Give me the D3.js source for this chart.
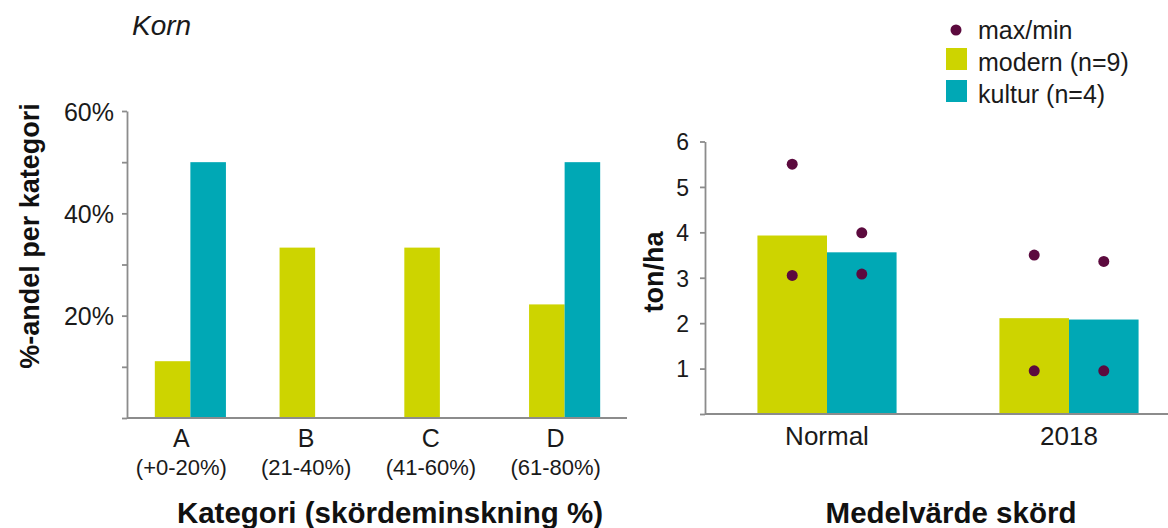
<!DOCTYPE html>
<html>
<head>
<meta charset="utf-8">
<script src="https://cdn.jsdelivr.net/npm/d3@7"></script>
<style>
  html, body { margin: 0; padding: 0; background: #fff; }
  svg { display: block; font-family: "Liberation Sans", Arial, Helvetica, sans-serif; }
  .axis path, .axis line { stroke: #8c8c8c; stroke-width: 1.8; }
  .axis text { fill: #1a1a1a; }
</style>
</head>
<body>
<svg id="chart" width="1168" height="528"></svg>
<script>
// Andel sorter per skördeminskningskategori
const categories = ["A", "B", "C", "D"];
const categoryRanges = ["(+0-20%)", "(21-40%)", "(41-60%)", "(61-80%)"];
const modernShare = [11.1, 33.3, 33.3, 22.2];
const kulturShare = [50, 0, 0, 50];
const shareTicks = [0, 10, 20, 30, 40, 50, 60];

// Medelskörd (ton/ha) med max/min
const yieldGroups = ["Normal", "2018"];
const modernMean = [3.93, 2.11];
const kulturMean = [3.56, 2.08];
const modernMax = [5.5, 3.5];
const modernMin = [3.05, 0.95];
const kulturMax = [3.99, 3.36];
const kulturMin = [3.08, 0.95];
const yieldTicks = [0, 1, 2, 3, 4, 5, 6];

const seriesNames = ["modern", "kultur"];
const legendLabels = ["max/min", "modern (n=9)", "kultur (n=4)"];
const colors = { modern: "#cdd400", kultur: "#00a8b5", dot: "#5c0a3e" };

const svg = d3.select("#chart");

// Rubrik
svg.append("text")
  .attr("x", 132).attr("y", 35)
  .attr("font-size", 28).attr("font-style", "italic").attr("fill", "#1a1a1a")
  .text("Korn");

// ---------- Vänster diagram ----------
const xL = d3.scaleBand().domain(categories).range([128, 627])
  .paddingInner(0.43).paddingOuter(0.215);
const subL = d3.scaleBand().domain(seriesNames).range([0, xL.bandwidth()]);
const yL = d3.scaleLinear().domain([0, 60]).range([418, 111]);

const leftData = categories.map((c, i) => ({ c, modern: modernShare[i], kultur: kulturShare[i] }));

const gL = svg.append("g");
gL.selectAll("g.cat").data(leftData).join("g")
  .attr("transform", d => `translate(${xL(d.c)},0)`)
  .selectAll("rect").data(d => seriesNames.map(s => ({ s, v: d[s] })).filter(e => e.v > 0)).join("rect")
  .attr("x", e => subL(e.s))
  .attr("width", subL.bandwidth())
  .attr("y", e => yL(e.v))
  .attr("height", e => yL(0) - yL(e.v))
  .attr("fill", e => colors[e.s]);

gL.append("g").attr("class", "axis")
  .attr("transform", "translate(127,0)")
  .call(d3.axisLeft(yL).tickValues(shareTicks).tickSize(5).tickSizeOuter(0).tickPadding(8)
    .tickFormat(d => (d > 0 && d % 20 === 0) ? d + "%" : ""))
  .call(g => g.selectAll("text").attr("font-size", 25).attr("dy", "0.36em"));

gL.append("line")
  .attr("x1", 127).attr("x2", xL.range()[1])
  .attr("y1", yL(0)).attr("y2", yL(0))
  .attr("stroke", "#8c8c8c").attr("stroke-width", 1.8);

const catLabels = gL.selectAll("g.catlab").data(categories).join("g")
  .attr("transform", d => `translate(${xL(d) + xL.bandwidth() / 2 - 9},0)`);
catLabels.append("text").attr("y", 447).attr("text-anchor", "middle")
  .attr("font-size", 25).attr("fill", "#1a1a1a").text(d => d);
catLabels.append("text").attr("y", 475).attr("text-anchor", "middle")
  .attr("font-size", 22).attr("fill", "#1a1a1a").text((d, i) => categoryRanges[i]);

gL.append("text")
  .attr("transform", "translate(39,236) rotate(-90)")
  .attr("text-anchor", "middle").attr("font-size", 27).attr("font-weight", "bold").attr("fill", "#111")
  .text("%-andel per kategori");

gL.append("text")
  .attr("x", 390).attr("y", 523).attr("text-anchor", "middle")
  .attr("font-size", 29.5).attr("font-weight", "bold").attr("fill", "#111")
  .text("Kategori (skördeminskning %)");

// ---------- Höger diagram ----------
const xR = d3.scaleBand().domain(yieldGroups).range([706, 1190])
  .paddingInner(0.425).paddingOuter(0.2125);
const subR = d3.scaleBand().domain(seriesNames).range([0, xR.bandwidth()]);
const yR = d3.scaleLinear().domain([0, 6]).range([414, 141.5]);

const rightData = yieldGroups.map((g, i) => ({
  g,
  modern: { mean: modernMean[i], max: modernMax[i], min: modernMin[i] },
  kultur: { mean: kulturMean[i], max: kulturMax[i], min: kulturMin[i] }
}));

const gR = svg.append("g");
const groups = gR.selectAll("g.grp").data(rightData).join("g")
  .attr("transform", d => `translate(${xR(d.g)},0)`);

groups.selectAll("rect").data(d => seriesNames.map(s => ({ s, ...d[s] }))).join("rect")
  .attr("x", e => subR(e.s))
  .attr("width", subR.bandwidth())
  .attr("y", e => yR(e.mean))
  .attr("height", e => yR(0) - yR(e.mean))
  .attr("fill", e => colors[e.s]);

groups.selectAll("circle").data(d => seriesNames.flatMap(s => [
  { s, v: d[s].max }, { s, v: d[s].min }
])).join("circle")
  .attr("cx", e => subR(e.s) + subR.bandwidth() / 2)
  .attr("cy", e => yR(e.v))
  .attr("r", 5.5)
  .attr("fill", colors.dot);

gR.append("g").attr("class", "axis")
  .attr("transform", "translate(705,0)")
  .call(d3.axisLeft(yR).tickValues(yieldTicks).tickSize(5).tickSizeOuter(0).tickPadding(11)
    .tickFormat(d => d > 0 ? d : ""))
  .call(g => g.selectAll("text").attr("font-size", 23).attr("dy", "0.36em"));

gR.append("g").attr("class", "axis")
  .attr("transform", `translate(0,${yR(0)})`)
  .call(d3.axisBottom(xR).tickSize(0).tickSizeOuter(0).tickPadding(13))
  .call(g => g.select(".domain").attr("d", `M705,0H${xR.range()[1]}`))
  .call(g => g.selectAll("text").attr("font-size", 26).attr("dy", "0.71em"));

gR.append("text")
  .attr("transform", "translate(663,272) rotate(-90)")
  .attr("text-anchor", "middle").attr("font-size", 27).attr("font-weight", "bold").attr("fill", "#111")
  .text("ton/ha");

gR.append("text")
  .attr("x", 951).attr("y", 523).attr("text-anchor", "middle")
  .attr("font-size", 29.5).attr("font-weight", "bold").attr("fill", "#111")
  .text("Medelvärde skörd");

// ---------- Teckenförklaring ----------
const legend = svg.append("g").attr("transform", "translate(946,30)");
legend.append("circle").attr("cx", 10).attr("cy", 0).attr("r", 5.5).attr("fill", colors.dot);
seriesNames.forEach((s, i) => {
  legend.append("rect").attr("x", 0).attr("y", 18 + i * 32).attr("width", 21).attr("height", 22)
    .attr("fill", colors[s]);
});
legend.selectAll("text.leg").data(legendLabels).join("text")
  .attr("x", 32).attr("y", (d, i) => 9 + i * 32)
  .attr("font-size", 25).attr("fill", "#1a1a1a")
  .text(d => d);
</script>
</body>
</html>
